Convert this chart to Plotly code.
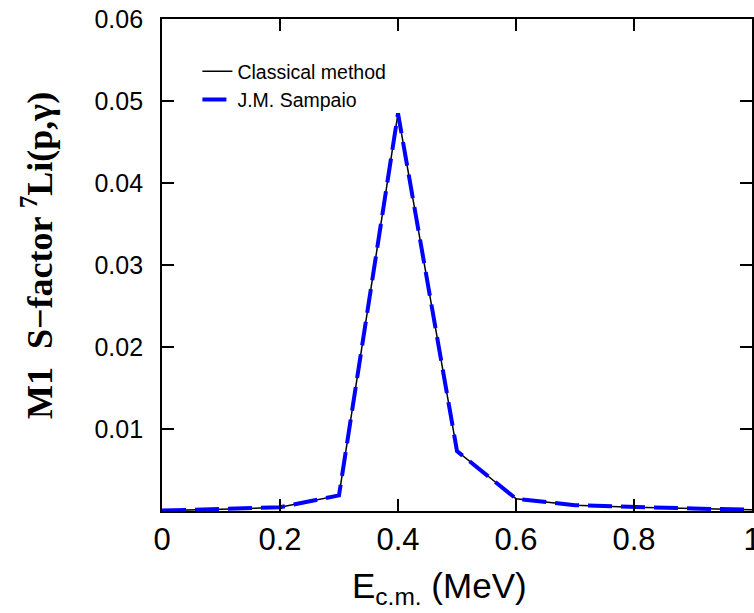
import plotly.graph_objects as go

energy = [0.0, 0.1, 0.2, 0.3, 0.4, 0.5, 0.6, 0.7, 0.8, 0.9, 1.0]
classical = [0.00005, 0.0002, 0.00045, 0.0019, 0.0485, 0.0073, 0.0015, 0.0007, 0.00045, 0.0003, 0.00016]
sampaio = [0.00005, 0.0002, 0.00045, 0.0019, 0.0485, 0.0073, 0.0015, 0.0007, 0.00045, 0.0003, 0.00016]

y_tickvals = [0.01, 0.02, 0.03, 0.04, 0.05, 0.06]
y_ticktext = ["0.01", "0.02", "0.03", "0.04", "0.05", "0.06"]
y_minor = [0.005, 0.015, 0.025, 0.035, 0.045, 0.055]
x_tickvals = [0, 0.2, 0.4, 0.6, 0.8, 1.0]
x_ticktext = ["0", "0.2", "0.4", "0.6", "0.8", "1"]
x_minor = [0.1, 0.3, 0.5, 0.7, 0.9]

fig = go.Figure()
fig.add_trace(go.Scatter(x=energy, y=classical, mode="lines", name="Classical method",
                         line=dict(color="black", width=1.5)))
fig.add_trace(go.Scatter(x=energy, y=sampaio, mode="lines", name="J.M. Sampaio",
                         line=dict(color="#0000ff", width=4, dash="24px,9px")))

sans = "Liberation Sans, Arial, sans-serif"
serif = "Liberation Serif, Times New Roman, serif"

common = dict(showline=True, linewidth=2, linecolor="#000000", mirror="ticks",
              showgrid=False, zeroline=False, ticks="inside",
              tickcolor="#000000", tickwidth=2, automargin=False)

pad = "\u00a0\u2009"

fig.update_layout(
    template="none",
    width=754, height=613,
    margin=dict(l=162, r=2, t=19, b=102, pad=0),
    paper_bgcolor="white", plot_bgcolor="white",
    showlegend=True,
    legend=dict(x=0.06, y=0.933, xanchor="left", yanchor="top",
                bgcolor="rgba(0,0,0,0)", borderwidth=0,
                font=dict(family=sans, size=19.5, color="black")),
    xaxis=dict(range=[0, 1], tickmode="array", tickvals=x_tickvals, ticktext=x_ticktext,
               ticklen=12, ticklabeloverflow="allow",
               tickfont=dict(family=sans, size=31, color="black"), **common),
    yaxis=dict(range=[0, 0.06], tickmode="array", tickvals=y_tickvals,
               ticktext=[t + pad for t in y_ticktext],
               ticklen=12, ticklabeloverflow="allow",
               tickfont=dict(family=sans, size=25, color="black"), **common),
    xaxis2=dict(range=[0, 1], overlaying="x", anchor="y", side="bottom",
                tickmode="array", tickvals=x_minor, showticklabels=False, ticklen=7, **common),
    yaxis2=dict(range=[0, 0.06], overlaying="y", anchor="x", side="left",
                tickmode="array", tickvals=y_minor, showticklabels=False, ticklen=7, **common),
    annotations=[
        dict(text="E<sub>c.m.</sub> (MeV)", xref="paper", yref="paper", x=0.471, y=-0.1565,
             xanchor="center", yanchor="middle", showarrow=False,
             font=dict(family=sans, size=35, color="black")),
        dict(text="<b>M1\u00a0 S\u2212factor <sup>7</sup>Li(p,\u03b3)</b>", xref="paper", yref="paper",
             x=-0.212, y=0.52, xanchor="center", yanchor="middle", textangle=-90, showarrow=False,
             font=dict(family=serif, size=36, color="black")),
    ],
)

fig.write_html("out.html")
